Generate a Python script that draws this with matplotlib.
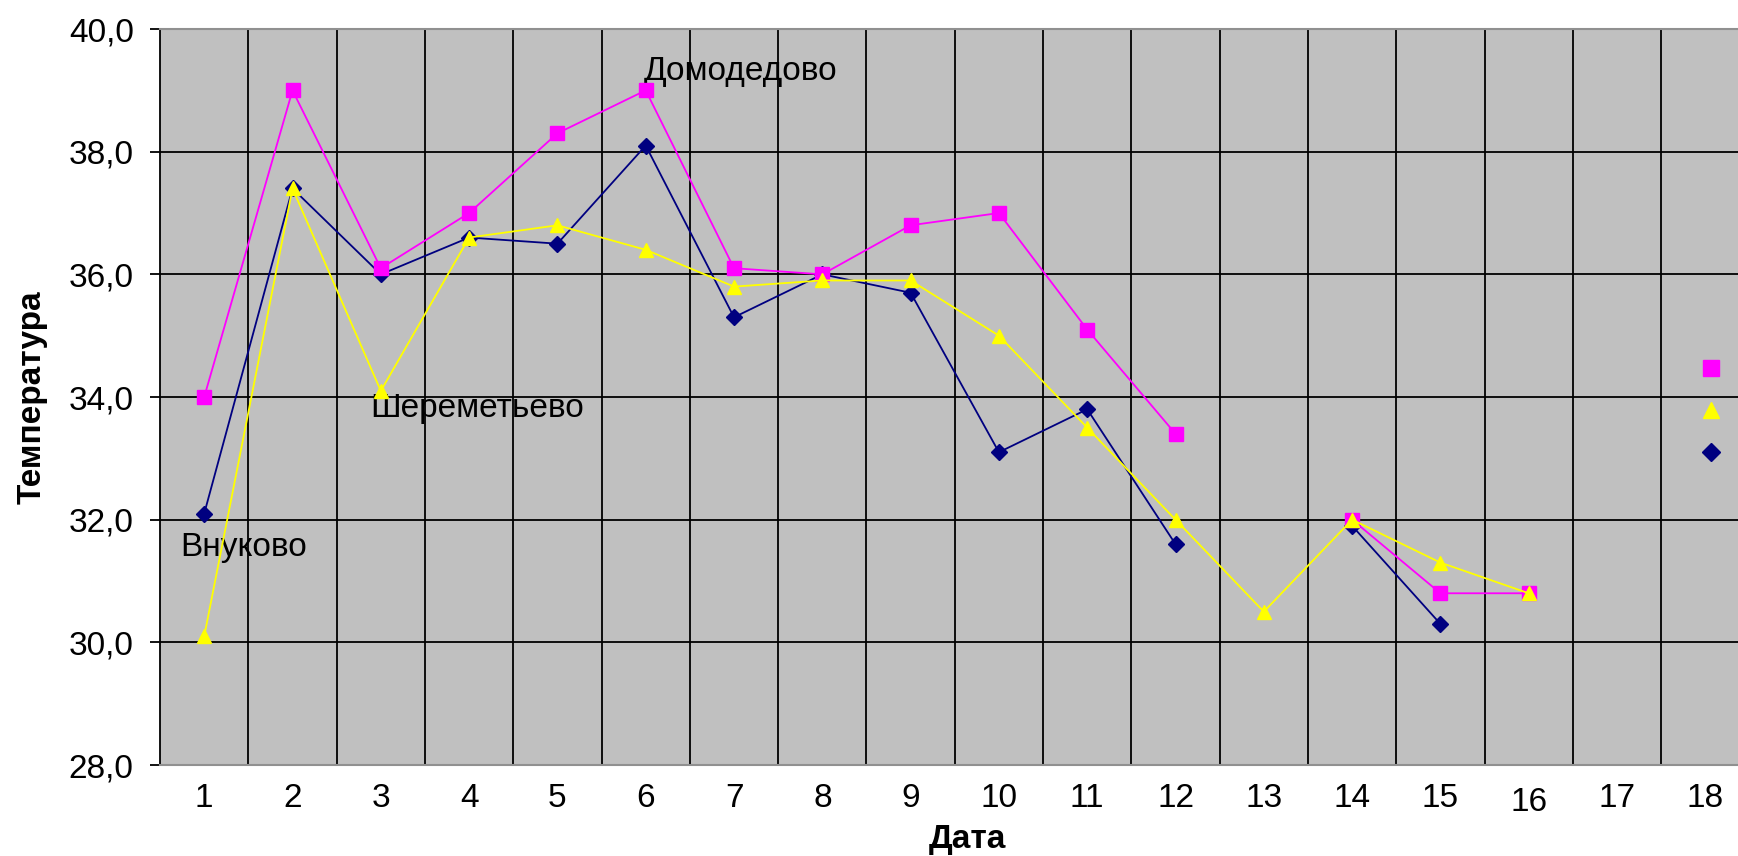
import matplotlib.pyplot as plt
from matplotlib.lines import Line2D
from matplotlib.ticker import FixedLocator, FuncFormatter
import matplotlib.transforms as mtransforms
import numpy as np

plt.rcParams['font.family'] = ['Liberation Sans', 'DejaVu Sans']

# days of the month (category axis)
dates = list(range(1, 19))

# temperatures per airport, nan = no value for that day
vnukovo = [32.1, 37.4, 36.0, 36.6, 36.5, 38.1, 35.3, 36.0, 35.7, 33.1, 33.8, 31.6,
           np.nan, 31.9, 30.3, np.nan, np.nan, np.nan]
domodedovo = [34.0, 39.0, 36.1, 37.0, 38.3, 39.0, 36.1, 36.0, 36.8, 37.0, 35.1, 33.4,
              np.nan, 32.0, 30.8, 30.8, np.nan, np.nan]
sheremetyevo = [30.1, 37.4, 34.1, 36.6, 36.8, 36.4, 35.8, 35.9, 35.9, 35.0, 33.5, 32.0,
                30.5, 32.0, 31.3, 30.8, np.nan, np.nan]

fig = plt.figure(figsize=(17.38, 8.56), dpi=100)
# plot area is cut by the right edge of the picture
ax = fig.add_axes([0.0921, 0.1063, 0.9145, 0.8598])
ax.set_facecolor('#C0C0C0')
ax.set_axisbelow(True)

ax.plot(dates, vnukovo, color='#000080', lw=1.3, marker='D', ms=8.5, zorder=3)
ax.plot(dates, domodedovo, color='#FF00FF', lw=1.3, marker='s', ms=9.5, zorder=4)
ax.plot(dates, sheremetyevo, color='#FFFF00', lw=1.3, marker='^', ms=10, zorder=5)

ax.set_xlim(0.5, 18.5)
ax.set_ylim(28, 40)
ax.xaxis.set_major_locator(FixedLocator(dates))
ax.xaxis.set_minor_locator(FixedLocator([d + 0.5 for d in dates[:-1]]))
ax.yaxis.set_major_locator(FixedLocator(np.arange(28, 41, 2)))
ax.yaxis.set_major_formatter(FuncFormatter(lambda v, p: f'{v:.1f}'.replace('.', ',')))

ax.grid(True, which='minor', axis='x', color='black', lw=1.3)
ax.grid(True, which='major', axis='y', color='black', lw=1.3)

ax.tick_params(axis='x', which='both', length=0, pad=13, labelsize=24)
ax.tick_params(axis='y', length=7, width=1.3, pad=12, labelsize=24)

for side in ['top', 'bottom']:
    ax.spines[side].set_color('#909090')
    ax.spines[side].set_linewidth(1.5)
ax.spines['left'].set_color('black')
ax.spines['left'].set_linewidth(1.3)
ax.spines['right'].set_visible(False)

ax.set_xlabel('Дата', fontsize=24, fontweight='bold')
ax.set_ylabel('Температура', fontsize=24, fontweight='bold')
ax.xaxis.set_label_coords(0.508, -0.080)
ax.yaxis.set_label_coords(-0.071, 0.5)

# series names written inside the plot
ax.text(5.98, 39.30, 'Домодедово', fontsize=24, ha='left', va='center')
ax.text(2.88, 33.82, 'Шереметьево', fontsize=24, ha='left', va='center')
ax.text(0.73, 31.55, 'Внуково', fontsize=24, ha='left', va='center')

# legend text is off the right edge, only the keys are visible
handles = [
    Line2D([], [], ls='none', marker='s', ms=11.5, color='#FF00FF'),
    Line2D([], [], ls='none', marker='^', ms=12, color='#FFFF00'),
    Line2D([], [], ls='none', marker='D', ms=9.5, color='#000080'),
]
ax.legend(handles, ['', '', ''], loc='center', bbox_to_anchor=(0.9845, 0.519),
          bbox_transform=fig.transFigure, frameon=False, handlelength=1,
          handletextpad=0, borderpad=0, fontsize=14, labelspacing=1.25)

# the "16" label sits a bit lower in the original
lbl = ax.get_xticklabels()[15]
lbl.set_transform(lbl.get_transform() +
                  mtransforms.ScaledTranslation(0, -0.04, fig.dpi_scale_trans))

fig.savefig('out.png', dpi=100)
